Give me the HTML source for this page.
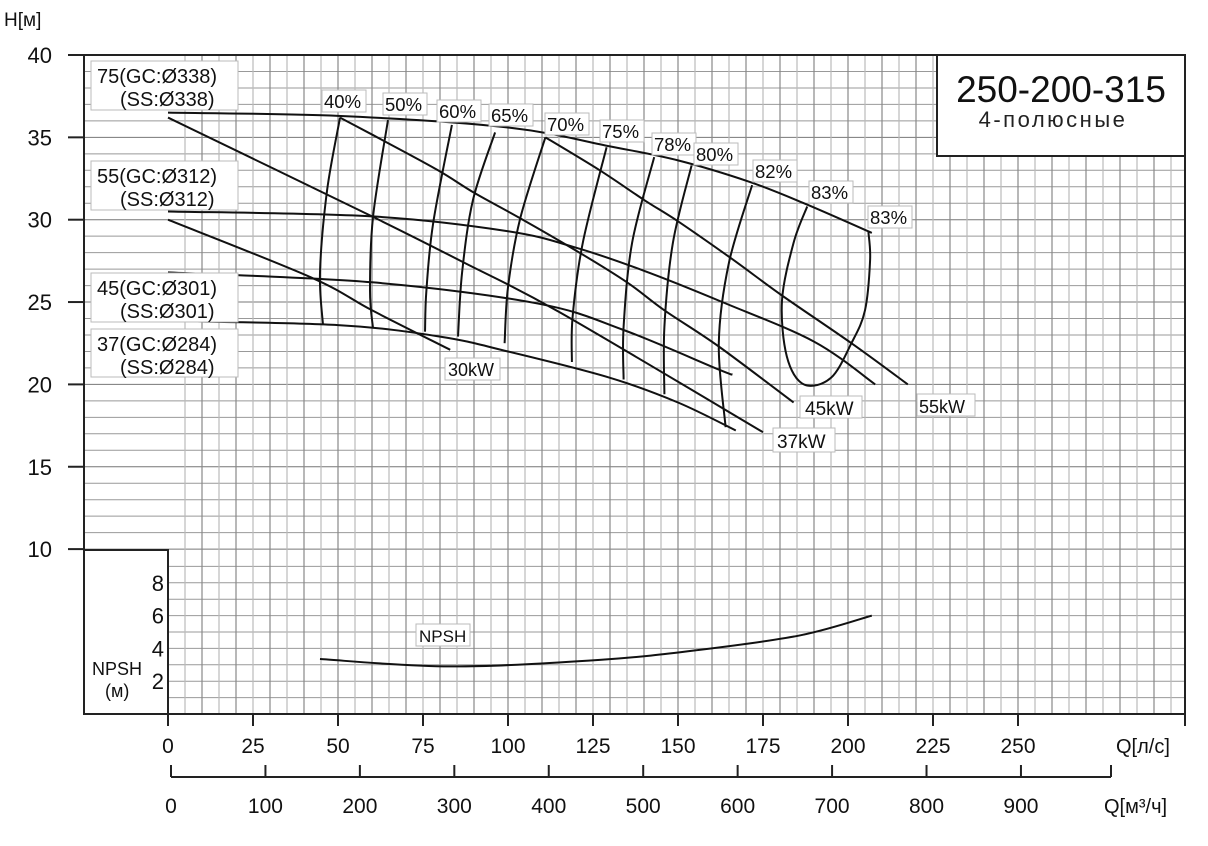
<!DOCTYPE html>
<html><head><meta charset="utf-8">
<style>
html,body{margin:0;padding:0;background:#fff;}
svg{display:block;font-family:"Liberation Sans","DejaVu Sans",sans-serif;}
</style></head>
<body>
<svg id="chart" width="1208" height="846" viewBox="0 0 1208 846" xmlns="http://www.w3.org/2000/svg">
<g id="grid"></g>
<g id="curves" fill="none" stroke="#111" stroke-width="2"></g>
<g id="labels"></g>
<g id="axes"></g>
</svg>
<script>
// ---- data ----
const qTicks = [0,25,50,75,100,125,150,175,200,225,250];
const m3hTicks = [0,100,200,300,400,500,600,700,800,900];
const hTicks = [10,15,20,25,30,35,40];
const npshTicks = [2,4,6,8];

const hq75Q = [0,50,100,130,150,171,187,207];
const hq75H = [36.5,36.3,35.6,34.45,33.6,32.3,31.0,29.2];
const hq55Q = [0,60,100,120,140,163,190,208];
const hq55H = [30.5,30.2,29.3,28.3,26.9,25.0,22.6,20.0];
const hq45Q = [0,60,109,134,162,166];
const hq45H = [26.8,26.2,24.9,23.3,20.9,20.6];
const hq37Q = [0,50,80,100,130,150,167];
const hq37H = [23.85,23.6,22.9,22.0,20.4,18.9,17.2];

const kw30Q = [0,42,60,83];
const kw30H = [30.0,26.5,24.5,22.1];
const kw37Q = [0,60,87,115,175];
const kw37H = [36.2,30.2,27.4,24.4,17.1];
const kw45Q = [50.6,63,79.4,90.3,103.5,121,135,146,162,184];
const kw45H = [36.2,34.84,33.0,31.6,30.1,28.0,26.2,24.5,22.3,18.9];
const kw55Q = [111,127,140,150,166,180.6,201,217.6];
const kw55H = [35.0,33.0,31.2,29.9,27.6,25.4,22.5,20.0];

const effNames = ["40%","50%","60%","65%","70%","75%","78%","80%","82%"];
const effQ = [[50.6,46.8,44.7,45.6],[64.7,60.3,59.4,60.3],[83.5,78,76,75.6],[96.2,89.7,86.5,85.3],[111,103.5,100,99],[129,122,119,118.8],[143,136.5,134,134],[154,148.5,146,146],[171.8,165,162,164]];
const effH = [[36.2,31.8,26.8,23.6],[36.05,30.16,25.7,23.4],[35.75,29.8,25.7,23.2],[35.3,31.2,26.8,22.9],[35.0,30.0,25.9,22.5],[34.4,28.6,24.1,21.36],[33.8,28.6,23.5,20.3],[33.3,28.6,23.5,19.4],[32.1,27.4,22.5,17.4]];
const eff83Q = [188,184,180.6,182,187,195,201,205,206.5,206];
const eff83H = [30.8,28.6,25.1,21.7,20.0,20.4,22.5,24.5,27.55,29.25];

const npshQ = [44.7,83,127,156,186,207];
const npshV = [3.35,2.9,3.3,3.9,4.8,6.0];

// ---- scales ----
const sx = q => 168 + 3.4*q;
const sy = h => 55 + (40-h)*16.47;
const sn = n => 714 - 16.4*n;
const sm = m => 171 + 0.9444*m;

const NS="http://www.w3.org/2000/svg";
function mk(tag, attrs, parent, text){
  const e=document.createElementNS(NS,tag);
  for(const k in attrs) e.setAttribute(k,attrs[k]);
  if(text!==undefined) e.textContent=text;
  parent.appendChild(e); return e;
}
function smooth(pts){
  if(pts.length<3) return "M"+pts.map(p=>p.join(",")).join("L");
  let d="M"+pts[0][0]+","+pts[0][1];
  for(let i=0;i<pts.length-1;i++){
    const p0=pts[i-1]||pts[i],p1=pts[i],p2=pts[i+1],p3=pts[i+2]||p2;
    const c1=[p1[0]+(p2[0]-p0[0])/6,p1[1]+(p2[1]-p0[1])/6];
    const c2=[p2[0]-(p3[0]-p1[0])/6,p2[1]-(p3[1]-p1[1])/6];
    d+=`C${c1[0].toFixed(1)},${c1[1].toFixed(1)} ${c2[0].toFixed(1)},${c2[1].toFixed(1)} ${p2[0].toFixed(1)},${p2[1].toFixed(1)}`;
  }
  return d;
}
const grid=document.getElementById('grid');
const curves=document.getElementById('curves');
const labels=document.getElementById('labels');
const axes=document.getElementById('axes');

// grid
for(let h=10;h<=40;h++){
  const l=mk('line',{x1:84,x2:1185,y1:sy(h),y2:sy(h),stroke:h%5===0?'#777':'#999','stroke-width':1},grid);
  
  
}
for(let n=1;n<10;n++){
  const l=mk('line',{x1:168,x2:1185,y1:sn(n),y2:sn(n),stroke:'#999','stroke-width':1},grid);
  
  
}
for(let q=5;q<=299;q+=5){
  const l=mk('line',{x1:sx(q),x2:sx(q),y1:55,y2:714,stroke:q%10===0?'#888':'#bbb','stroke-width':1.2},grid);
  
  
}

function curve(Q,H,name,fy){
  const f=fy||sy;
  const p=mk('path',{d:smooth(Q.map((q,i)=>[sx(q),f(H[i])]))},curves);
  
  
}
curve(hq75Q,hq75H,'hq-curve-75');
curve(hq55Q,hq55H,'hq-curve-55');
curve(hq45Q,hq45H,'hq-curve-45');
curve(hq37Q,hq37H,'hq-curve-37');
curve(kw30Q,kw30H,'power-line-30kw');
curve(kw37Q,kw37H,'power-line-37kw');
curve(kw45Q,kw45H,'power-line-45kw');
curve(kw55Q,kw55H,'power-line-55kw');
effQ.forEach((qs,i)=>curve(qs,effH[i],'efficiency-curve-'+effNames[i].replace('%','')));
curve(eff83Q,eff83H,'efficiency-loop-83');
curve(npshQ,npshV,'npsh-curve',sn);

// label boxes
function box(x,y,w,h,lines,name,fs){
  const g=mk('g',{},labels);
  
  
  mk('rect',{x:x,y:y,width:w,height:h,fill:'#fff',stroke:'#bbb','stroke-width':1},g);
  lines.forEach((t,i)=>{
    mk('text',{x:t[1],y:y+t[2],'font-size':fs||20,fill:'#111'},g,t[0]);
  });
}
box(91,61,147,49,[["75(GC:Ø338)",97,22],["(SS:Ø338)",120,45]],'label-impeller-75',20);
box(91,161,147,49,[["55(GC:Ø312)",97,22],["(SS:Ø312)",120,45]],'label-impeller-55',20);
box(91,273,147,49,[["45(GC:Ø301)",97,22],["(SS:Ø301)",120,45]],'label-impeller-45',20);
box(91,329,147,48,[["37(GC:Ø284)",97,22],["(SS:Ø284)",120,45]],'label-impeller-37',20);
const effLab=[[322,90],[383,93],[437,100],[489,104],[545,113],[600,120],[652,133],[694,143],[753,160],[809,181],[868,206]];
const effLabT=effNames.concat(["83%","83%"]);
effLab.forEach((p,i)=>box(p[0],p[1],44,22,[[effLabT[i],p[0]+2,18]],'efficiency-label-'+i,18.5));
box(445,358,55,22,[["30kW",448,18]],'power-label-30kw',18);
box(800,396,62,22,[["45kW",805,19]],'power-label-45kw',19);
box(773,428,62,24,[["37kW",777,20]],'power-label-37kw',19);
box(917,394,58,22,[["55kW",919,19]],'power-label-55kw',18);
box(416,624,54,22,[["NPSH",419,18]],'npsh-label',17);

// axes
const ax=(tag,a,txt,name)=>{const e=mk(tag,a,axes,txt);return e;};
ax('path',{d:'M84,55V714H1185V55',fill:'none',stroke:'#222','stroke-width':2},undefined,'plot-frame');
ax('line',{x1:68,x2:937,y1:55,y2:55,stroke:'#222','stroke-width':2},undefined,'top-border');
ax('rect',{x:84,y:550,width:84,height:164,fill:'#fff',stroke:'#222','stroke-width':2},undefined,'npsh-axis-box');
ax('rect',{x:937,y:55,width:248,height:101,fill:'#fff',stroke:'#222','stroke-width':2},undefined,'title-box');
ax('text',{x:1061,y:102,'font-size':37,'text-anchor':'middle',fill:'#111'},'250-200-315','title');
ax('text',{x:1053,y:127,'font-size':22,'text-anchor':'middle',fill:'#222','letter-spacing':2.5},'4-полюсные','subtitle');
ax('text',{x:4,y:26,'font-size':19,fill:'#111'},'H[м]','y-axis-title');
hTicks.forEach(h=>{
  ax('line',{x1:68,x2:84,y1:sy(h),y2:sy(h),stroke:'#222','stroke-width':2},undefined,'y-tick');
  ax('text',{x:52,y:sy(h)+8,'font-size':22,'text-anchor':'end',fill:'#111'},String(h),'y-tick-label');
});
npshTicks.forEach(n=>{
  ax('text',{x:164,y:sn(n)+8,'font-size':22,'text-anchor':'end',fill:'#111'},String(n),'npsh-tick-label');
});
ax('text',{x:92,y:675,'font-size':18,fill:'#111'},'NPSH','npsh-axis-title');
ax('text',{x:105,y:697,'font-size':18,fill:'#111'},'(м)','npsh-axis-unit');
qTicks.forEach(q=>{
  ax('line',{x1:sx(q),x2:sx(q),y1:714,y2:726,stroke:'#222','stroke-width':2},undefined,'x-tick');
  ax('text',{x:sx(q),y:753,'font-size':21,'text-anchor':'middle',fill:'#111'},String(q),'x-tick-label');
});
ax('line',{x1:1185,x2:1185,y1:714,y2:726,stroke:'#222','stroke-width':2},undefined,'x-tick-end');
ax('text',{x:1116,y:753,'font-size':20,fill:'#111'},'Q[л/с]','x-axis-title');
ax('line',{x1:171,x2:1111,y1:777,y2:777,stroke:'#222','stroke-width':2},undefined,'m3h-axis-line');
m3hTicks.forEach(m=>{
  ax('line',{x1:sm(m),x2:sm(m),y1:765,y2:777,stroke:'#222','stroke-width':2},undefined,'m3h-tick');
  ax('text',{x:sm(m),y:813,'font-size':21,'text-anchor':'middle',fill:'#111'},String(m),'m3h-tick-label');
});
ax('line',{x1:1111,x2:1111,y1:765,y2:777,stroke:'#222','stroke-width':2},undefined,'m3h-tick-end');
ax('text',{x:1104,y:813,'font-size':20,fill:'#111'},'Q[м³/ч]','m3h-axis-title');
</script>
</body></html>
